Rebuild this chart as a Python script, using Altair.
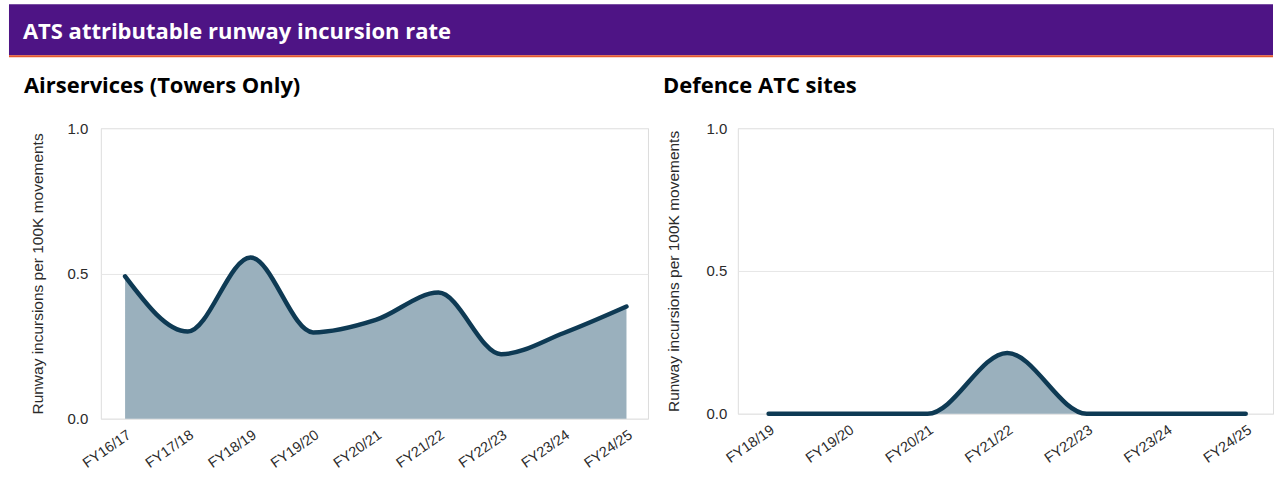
import altair as alt
import pandas as pd

# ---- data ----
left_years = ["FY16/17", "FY17/18", "FY18/19", "FY19/20", "FY20/21",
              "FY21/22", "FY22/23", "FY23/24", "FY24/25"]
left_rates = [0.49, 0.30, 0.555, 0.297, 0.34, 0.434, 0.222, 0.295, 0.386]

right_years = ["FY18/19", "FY19/20", "FY20/21", "FY21/22", "FY22/23", "FY23/24", "FY24/25"]
right_rates = [0.0, 0.0, 0.0, 0.213, 0.0, 0.0, 0.0]

header_text = ["ATS attributable runway incursion rate"]
left_subtitle = ["Airservices (Towers Only)"]
right_subtitle = ["Defence ATC sites"]
y_title = "Runway incursions per 100K movements"
y_ticks = [0.0, 0.5, 1.0]

PURPLE = "#4E1485"
ORANGE = "#E4572E"
FILL = "#9AB0BD"
LINE = "#0E3A54"
LABEL = "#2B2B2B"

left_df = pd.DataFrame({"year": left_years, "rate": left_rates})
right_df = pd.DataFrame({"year": right_years, "rate": right_rates})


def panel(df, cats, label_pad, title_pad):
    x = alt.X("year:O", sort=cats,
              scale=alt.Scale(type="point", padding=0.365, align=0.53),
              axis=alt.Axis(title=None, labelAngle=-35, ticks=False, domain=False,
                            grid=False, labelFont="Liberation Sans", labelFontSize=14.5,
                            labelColor=LABEL, labelPadding=9))
    y = alt.Y("rate:Q", scale=alt.Scale(domain=[0, 1], nice=False),
              axis=alt.Axis(title=y_title, values=y_ticks, format=".1f", ticks=False,
                            domain=False, grid=True, gridColor="#E6E6E6",
                            labelFont="Liberation Sans", labelFontSize=15,
                            labelColor=LABEL, labelPadding=label_pad,
                            titleFont="Liberation Sans", titleFontSize=15.5,
                            titleFontWeight="normal", titleColor=LABEL,
                            titlePadding=title_pad))
    base = alt.Chart(df)
    area = base.mark_area(interpolate="monotone", color=FILL, opacity=1).encode(x=x, y=y)
    line = base.mark_line(interpolate="monotone", color=LINE, strokeWidth=4.5,
                          strokeCap="round").encode(x=x, y=y)
    return area, line


la, ll = panel(left_df, left_years, 13, 22)
ra, rl = panel(right_df, right_years, 11, 25)

HFONT = "Open Sans"
band = alt.Chart(pd.DataFrame({"t": header_text})).mark_rect(color=PURPLE).encode(
    x=alt.value(-92), x2=alt.value(1174), y=alt.value(-124), y2=alt.value(-73))
stripe = alt.Chart(pd.DataFrame({"t": header_text})).mark_rect(color=ORANGE).encode(
    x=alt.value(-92), x2=alt.value(1174), y=alt.value(-73), y2=alt.value(-71))
htext = alt.Chart(pd.DataFrame({"t": header_text})).mark_text(
    align="left", baseline="alphabetic", font=HFONT, fontWeight="bold",
    fontSize=22, color="white").encode(x=alt.value(-78), y=alt.value(-89), text="t:N")
lsub = alt.Chart(pd.DataFrame({"t": left_subtitle})).mark_text(
    align="left", baseline="alphabetic", font=HFONT, fontWeight="bold",
    fontSize=22, color="black").encode(x=alt.value(-77), y=alt.value(-35), text="t:N")
rsub = alt.Chart(pd.DataFrame({"t": right_subtitle})).mark_text(
    align="left", baseline="alphabetic", font=HFONT, fontWeight="bold",
    fontSize=22, color="black").encode(x=alt.value(-75), y=alt.value(-35), text="t:N")

left = alt.layer(la, ll, band, stripe, htext, lsub).properties(width=548, height=291)
right = alt.layer(ra, rl, rsub).properties(width=536, height=286)

chart = alt.hconcat(left, right, spacing=90, bounds="flush").properties(
    padding={"left": 8, "top": 3, "right": 0, "bottom": 0}
).configure_view(strokeWidth=0).configure(background="white")

chart.save("out.html", embed_options={"renderer": "svg", "actions": False})
